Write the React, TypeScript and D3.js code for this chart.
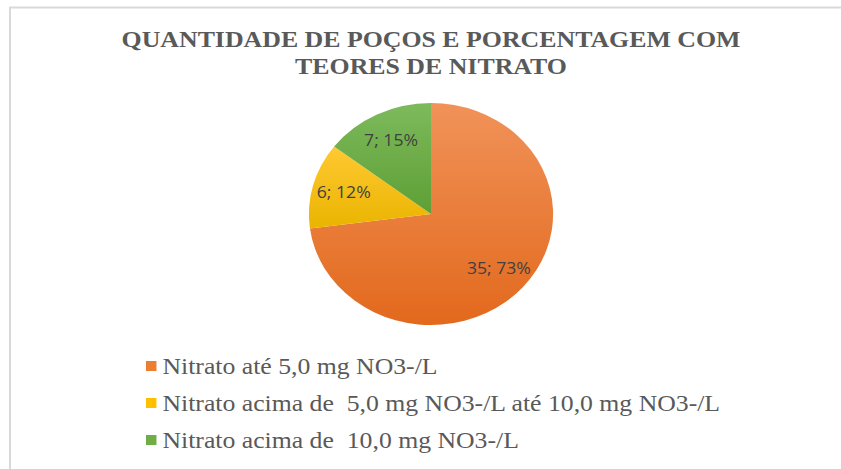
import React, { useEffect, useRef } from "react";
import * as d3 from "d3";

const categories = [
  "Nitrato até 5,0 mg NO3-/L",
  "Nitrato acima de  5,0 mg NO3-/L até 10,0 mg NO3-/L",
  "Nitrato acima de  10,0 mg NO3-/L",
];
const counts = [35, 6, 7];
const percents = ["73%", "12%", "15%"];
const titleLines = ["QUANTIDADE DE POÇOS E PORCENTAGEM COM", "TEORES DE NITRATO"];
const colorsTop = ["#f19259", "#ffc933", "#7dba5c"];
const colorsBottom = ["#e2691d", "#eab400", "#5e9f35"];
const legendSwatch = ["#ed7d31", "#ffc000", "#70ad47"];

const W = 841;
const H = 469;
const SX = 1.1; // the reference is stretched horizontally

const App = () => {
  const ref = useRef<SVGSVGElement>(null);

  useEffect(() => {
    document.body.style.margin = "0";
    const svg = d3.select(ref.current);
    svg.selectAll("*").remove();

    // frame
    svg
      .append("path")
      .attr("d", `M10,${H + 5} L10,7.5 L${W + 5},7.5`)
      .attr("fill", "none")
      .attr("stroke", "#d9d9d9")
      .attr("stroke-width", 2);

    const defs = svg.append("defs");
    categories.forEach((c, i) => {
      const g = defs
        .append("linearGradient")
        .attr("id", "grad" + i)
        .attr("x1", 0)
        .attr("y1", 0)
        .attr("x2", 0)
        .attr("y2", 1);
      g.append("stop").attr("offset", "0%").attr("stop-color", colorsTop[i]);
      g.append("stop").attr("offset", "100%").attr("stop-color", colorsBottom[i]);
    });

    const root = svg.append("g").attr("transform", `scale(${SX},1)`);
    const cx = 431 / SX;

    // title
    root
      .append("text")
      .attr("x", cx)
      .attr("y", 47)
      .attr("text-anchor", "middle")
      .style("font-family", "'Liberation Serif', 'Times New Roman', serif")
      .style("font-weight", "bold")
      .style("font-size", "23.5px")
      .style("fill", "#595959")
      .selectAll("tspan")
      .data(titleLines)
      .enter()
      .append("tspan")
      .attr("x", cx)
      .attr("dy", (d, i) => (i === 0 ? 0 : 27))
      .text((d) => d);

    // pie
    const r = 111;
    const pie = d3.pie<number>().sort(null).value((d) => d);
    const arcs = pie(counts);
    const arc = d3.arc<d3.PieArcDatum<number>>().innerRadius(0).outerRadius(r);
    const labelArc = d3
      .arc<d3.PieArcDatum<number>>()
      .innerRadius(r * 0.74)
      .outerRadius(r * 0.74);

    const pg = root.append("g").attr("transform", `translate(${cx},214)`);
    pg.selectAll("path")
      .data(arcs)
      .enter()
      .append("path")
      .attr("d", arc)
      .attr("fill", (d, i) => `url(#grad${i})`);

    pg.selectAll("text")
      .data(arcs)
      .enter()
      .append("text")
      .attr("transform", (d) => `translate(${labelArc.centroid(d)})`)
      .attr("text-anchor", "middle")
      .attr("dy", "0.35em")
      .style("font-family", "'Open Sans', 'Liberation Sans', sans-serif")
      .style("font-size", "16px")
      .style("fill", "#404040")
      .text((d, i) => `${counts[i]}; ${percents[i]}`);

    // legend
    const lg = root.append("g").attr("transform", `translate(${146 / SX},0)`);
    const rowY = d3.scalePoint<number>().domain([0, 1, 2]).range([366, 440]);
    const items = lg
      .selectAll("g")
      .data(categories)
      .enter()
      .append("g")
      .attr("transform", (d, i) => `translate(0,${rowY(i)})`);
    items
      .append("rect")
      .attr("x", 0)
      .attr("y", -5)
      .attr("width", 9.5)
      .attr("height", 10)
      .attr("fill", (d, i) => legendSwatch[i]);
    items
      .append("text")
      .attr("x", 15)
      .attr("dy", "0.33em")
      .style("font-family", "'Liberation Serif', 'Times New Roman', serif")
      .style("font-size", "23.4px")
      .style("fill", "#595959")
      .style("white-space", "pre")
      .text((d) => d);
  }, []);

  return <svg ref={ref} width={W} height={H} style={{ display: "block" }} />;
};

export default App;
